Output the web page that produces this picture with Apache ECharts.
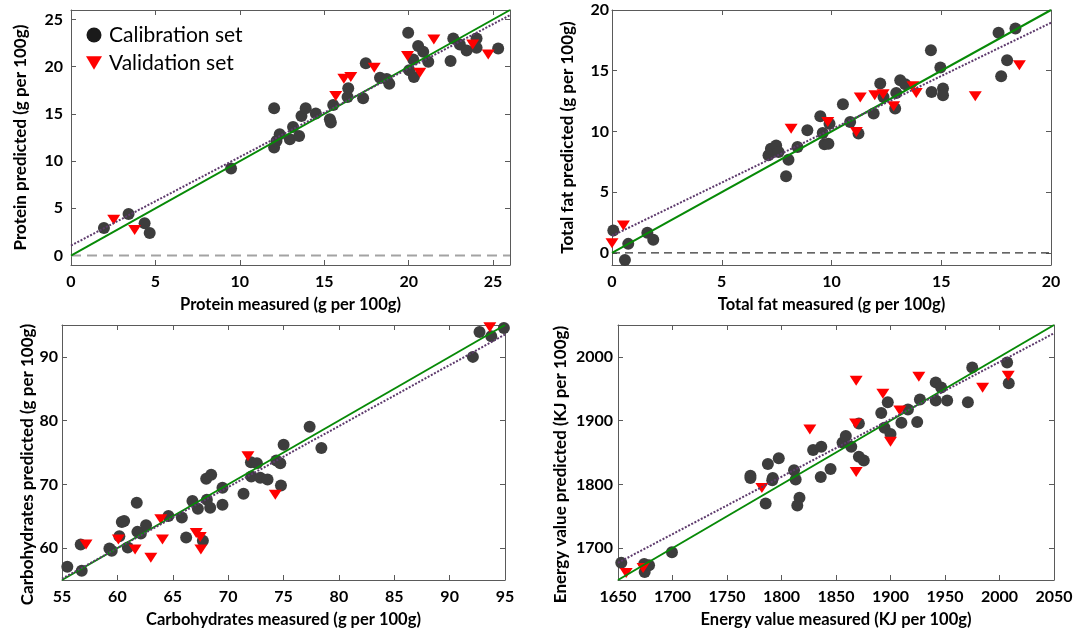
<!DOCTYPE html>
<html>
<head>
<meta charset="utf-8">
<script src="https://cdn.jsdelivr.net/npm/echarts@6/dist/echarts.min.js"></script>
<style>
  html, body { margin: 0; padding: 0; background: #ffffff; }
  #chart { width: 1083px; height: 631px; }
</style>
</head>
<body>
<div id="chart"></div>
<script>
// ---- Protein (g per 100g) ----
const proteinCal = [
  [1.95,2.92],[3.41,4.40],[4.36,3.41],[4.66,2.39],[9.48,9.22],
  [12.03,15.59],[12.03,11.44],[12.17,12.14],[12.36,12.85],[12.96,12.32],[13.15,13.62],
  [13.51,12.67],[13.65,14.78],[13.9,15.59],[14.5,15.03],[15.33,14.43],[15.39,14.08],
  [15.53,15.94],[16.38,16.79],[16.42,17.71],[17.3,16.65],[17.46,20.35],[18.3,18.83],
  [18.7,18.7],[18.85,18.2],[19.97,23.58],[20.03,19.61],[20.27,20.77],[20.31,18.9],
  [20.56,22.18],[20.86,21.57],[21.16,20.52],[22.48,20.59],[22.64,22.99],[23.03,22.35],
  [23.43,21.72],[24.02,22.99],[24.02,22.0],[25.3,21.93]
];
const proteinVal = [
  [2.53,3.80],[3.77,2.71],[15.68,16.9],[16.16,18.72],[16.57,18.9],[17.96,19.88],
  [19.93,21.12],[20.66,19.36],[21.49,22.88],[23.79,22.35],[24.71,21.3]
];
const proteinRangeX = [0, 26];
const proteinRangeY = [-1, 26];
const proteinTicks = [0, 5, 10, 15, 20, 25];
const proteinFit = [[0, 1.06], [26, 25.45]];

// ---- Total fat (g per 100g) ----
const fatCal = [
  [0.06,1.84],[0.59,-0.58],[0.74,0.74],[1.61,1.65],[1.88,1.07],
  [7.13,8.03],[7.24,8.58],[7.48,8.85],[7.59,8.3],[8.04,7.67],[7.93,6.3],[8.45,8.71],
  [8.9,10.09],[9.49,11.25],[9.6,9.87],[9.68,8.94],[9.86,8.99],[9.91,10.64],
  [10.52,12.24],[10.85,10.78],[11.23,9.82],[11.92,11.47],[12.22,13.94],[12.37,12.84],
  [12.9,11.88],[12.95,13.17],[13.13,14.22],[13.36,13.89],[14.53,16.69],[14.96,15.26],
  [14.56,13.25],[15.08,13.53],[15.08,12.98],[17.61,18.12],[18.38,18.48],[18.0,15.87],
  [17.73,14.55]
];
const fatVal = [
  [0.0,0.79],[0.52,2.25],[8.16,10.23],[9.83,10.78],[11.13,9.95],[11.31,12.79],
  [11.97,12.98],[12.35,13.06],[12.83,12.07],[13.71,13.72],[13.86,13.17],[16.55,12.9],
  [18.56,15.45]
];
const fatRangeX = [0, 20];
const fatRangeY = [-1, 20];
const fatTicks = [0, 5, 10, 15, 20];
const fatFit = [[0, 1.4], [20, 18.95]];

// ---- Carbohydrates (g per 100g) ----
const carbCal = [
  [55.48,57.08],[56.69,60.58],[56.78,56.46],[59.28,59.95],[59.49,59.58],[60.18,61.87],
  [60.4,64.1],[60.61,64.26],[60.94,60.11],[61.75,67.13],[61.81,62.55],[62.12,62.29],
  [62.59,63.59],[64.61,65.04],[65.82,64.79],[66.21,61.67],[66.78,67.38],[67.27,66.19],
  [68.08,67.6],[68.38,66.35],[67.72,61.14],[68.02,70.87],[68.47,71.5],[69.49,69.47],
  [69.49,66.82],[71.39,68.53],[72.06,73.46],[72.6,73.31],[72.09,71.23],[72.9,71.03],
  [73.56,70.77],[74.35,73.73],[74.71,73.31],[74.77,69.83],[75.01,76.22],[77.36,79.03],
  [78.42,75.71],[92.1,90.0],[92.7,93.9],[93.76,93.23],[94.9,94.52]
];
const carbVal = [
  [57.17,60.58],[60.09,61.36],[61.6,59.8],[63.02,58.49],[63.92,64.52],[64.07,61.36],
  [67.12,62.39],[67.48,61.76],[67.54,59.8],[71.79,74.4],[74.26,68.38],[93.63,94.63]
];
const carbRangeX = [55, 95];
const carbRangeY = [55, 95];
const carbTicksX = [55, 60, 65, 70, 75, 80, 85, 90, 95];
const carbTicksY = [60, 70, 80, 90];
const carbFit = [[55, 55.2], [95, 93.5]];

// ---- Energy value (KJ per 100g) ----
const energyCal = [
  [1653,1677],[1674,1675],[1674.5,1662.5],[1678.5,1673],[1699.5,1693.5],[1771.5,1813.5],
  [1771.5,1810],[1785.5,1770],[1787.5,1832],[1792,1810],[1791.5,1806.5],[1797.5,1841],
  [1811.5,1822],[1813,1807.5],[1816.5,1779],[1814.5,1767],[1829,1854],[1836.5,1859],
  [1836,1811.5],[1845,1824],[1856,1865.5],[1859,1876],[1864,1859],[1871,1843.5],
  [1875.5,1837.5],[1871,1895.5],[1891.5,1912],[1894.5,1889],[1897.5,1929],[1900,1879],
  [1910,1896.5],[1916,1917.5],[1924.5,1898],[1927,1933],[1941.5,1960],[1946.5,1952],
  [1941.5,1931.5],[1952,1931.5],[1971,1929],[1975,1983.5],[2007,1991],[2008.5,1958.5]
];
const energyVal = [
  [1657.5,1661],[1673,1669],[1782,1794.5],[1826,1886],[1868.5,1962.5],[1868,1895.5],
  [1868.5,1819.5],[1893,1942],[1900,1867],[1908.5,1916],[1926,1969],[1984.5,1951.5],
  [2008,1970.5]
];
const energyRangeX = [1650, 2050];
const energyRangeY = [1650, 2050];
const energyTicksX = [1650, 1700, 1750, 1800, 1850, 1900, 1950, 2000, 2050];
const energyTicksY = [1700, 1800, 1900, 2000];
const energyFit = [[1650, 1677], [2050, 2037]];

// ---- drawing ----
const FONT = 'Lato, "Open Sans", sans-serif';
const FRAME = '#5a5a5a';
const CAL_COLOR = '#3d3d3d';
const VAL_COLOR = '#ff0000';
const GREEN = '#078a07';
const PURPLE = '#5d3a6c';
const TRI_DOWN = 'path://M0,0 L12,0 L6,10 Z';

// yShift moves a y-axis title down along its axis (pixels)
const panels = [
  { grid: { left: 71, top: 10, width: 439, height: 255 },
    rx: proteinRangeX, ry: proteinRangeY, tx: proteinTicks, ty: proteinTicks,
    cal: proteinCal, val: proteinVal, fit: proteinFit,
    xName: 'Protein measured (g per 100g)', yName: 'Protein predicted (g per 100g)',
    yMargin: 8, yGap: 42, yShift: 0, zero: { color: '#a3a3a3', width: 2, dash: [10, 6] } },
  { grid: { left: 612, top: 10, width: 439, height: 255 },
    rx: fatRangeX, ry: fatRangeY, tx: fatTicks, ty: fatTicks,
    cal: fatCal, val: fatVal, fit: fatFit,
    xName: 'Total fat measured (g per 100g)', yName: 'Total fat predicted (g per 100g)',
    yMargin: 3, yGap: 36, yShift: 0, zero: { color: '#333333', width: 1.2, dash: [8, 5] } },
  { grid: { left: 62, top: 325, width: 443, height: 255 },
    rx: carbRangeX, ry: carbRangeY, tx: carbTicksX, ty: carbTicksY,
    cal: carbCal, val: carbVal, fit: carbFit,
    xName: 'Carbohydrates measured (g per 100g)', yName: 'Carbohydrates predicted (g per 100g)',
    yMargin: 4, yGap: 26, yShift: 12, zero: null },
  { grid: { left: 618, top: 325, width: 436, height: 255 },
    rx: energyRangeX, ry: energyRangeY, tx: energyTicksX, ty: energyTicksY,
    cal: energyCal, val: energyVal, fit: energyFit,
    xName: 'Energy value measured (KJ per 100g)', yName: 'Energy value predicted (KJ per 100g)',
    yMargin: 5, yGap: 49, yShift: 12, zero: null }
];

const labelStyle = { color: '#000', fontFamily: FONT, fontSize: 16, fontWeight: 'bold' };
const plain = v => String(v);
const grids = [], xAxes = [], yAxes = [], series = [];

panels.forEach((p, gi) => {
  grids.push(p.grid);
  const line = { show: true, onZero: false, lineStyle: { color: FRAME, width: 1 } };
  const tickX = { show: true, inside: true, length: 5, customValues: p.tx, lineStyle: { color: FRAME } };
  const tickY = { show: true, inside: true, length: 5, customValues: p.ty, lineStyle: { color: FRAME } };
  const xi = xAxes.length, yi = yAxes.length;
  xAxes.push({
    gridIndex: gi, type: 'value', position: 'bottom', min: p.rx[0], max: p.rx[1],
    axisLine: line, axisTick: tickX, splitLine: { show: false },
    axisLabel: Object.assign({ customValues: p.tx, margin: 9, formatter: plain }, labelStyle),
    name: p.xName, nameLocation: 'middle', nameGap: 31,
    nameTextStyle: Object.assign({}, labelStyle, { fontSize: 16.5 })
  });
  xAxes.push({
    gridIndex: gi, type: 'value', position: 'top', min: p.rx[0], max: p.rx[1],
    axisLine: line, axisTick: tickX, splitLine: { show: false }, axisLabel: { show: false }
  });
  yAxes.push({
    gridIndex: gi, type: 'value', position: 'left', min: p.ry[0], max: p.ry[1],
    axisLine: line, axisTick: tickY, splitLine: { show: false },
    axisLabel: Object.assign({ customValues: p.ty, margin: p.yMargin, formatter: plain }, labelStyle),
    name: p.yName, nameLocation: 'middle', nameGap: p.yGap,
    nameTextStyle: Object.assign({}, labelStyle, {
      fontSize: 17,
      padding: [0, 2 * p.yShift, 0, 0]
    })
  });
  yAxes.push({
    gridIndex: gi, type: 'value', position: 'right', min: p.ry[0], max: p.ry[1],
    axisLine: line, axisTick: tickY, splitLine: { show: false }, axisLabel: { show: false }
  });

  const ax = { xAxisIndex: xi, yAxisIndex: yi };
  if (p.zero) {
    series.push(Object.assign({
      type: 'line', silent: true, showSymbol: false, z: 1,
      data: [[p.rx[0], 0], [p.rx[1], 0]],
      lineStyle: { color: p.zero.color, width: p.zero.width, type: p.zero.dash }
    }, ax));
  }
  series.push(Object.assign({
    name: 'Calibration set', type: 'scatter', data: p.cal, z: 2,
    symbol: 'circle', symbolSize: 12, itemStyle: { color: CAL_COLOR, opacity: 1 }
  }, ax));
  series.push(Object.assign({
    name: 'Validation set', type: 'scatter', data: p.val, z: 3,
    symbol: TRI_DOWN, symbolSize: [13, 10], itemStyle: { color: VAL_COLOR, opacity: 1 }
  }, ax));
  // 1:1 line
  series.push(Object.assign({
    type: 'line', silent: true, showSymbol: false, z: 4,
    data: [[p.rx[0], p.rx[0]], [p.rx[1], p.rx[1]]],
    lineStyle: { color: GREEN, width: 2 }
  }, ax));
  // fitted regression line
  series.push(Object.assign({
    type: 'line', silent: true, showSymbol: false, z: 5,
    data: p.fit,
    lineStyle: { color: PURPLE, width: 2, type: [2, 1.6] }
  }, ax));
});

const chart = echarts.init(document.getElementById('chart'), null, { renderer: 'canvas' });
chart.setOption({
  animation: false,
  backgroundColor: '#ffffff',
  grid: grids,
  xAxis: xAxes,
  yAxis: yAxes,
  legend: {
    orient: 'vertical', left: 81, top: 19,
    itemWidth: 16, itemHeight: 15, itemGap: 6,
    textStyle: { color: '#000', fontFamily: FONT, fontSize: 21, lineHeight: 22, padding: [0, 0, 0, 2] },
    data: [
      { name: 'Calibration set', icon: 'circle', itemStyle: { color: '#1a1a1a' } },
      { name: 'Validation set', icon: TRI_DOWN, itemStyle: { color: VAL_COLOR } }
    ]
  },
  series: series
});
</script>
</body>
</html>
